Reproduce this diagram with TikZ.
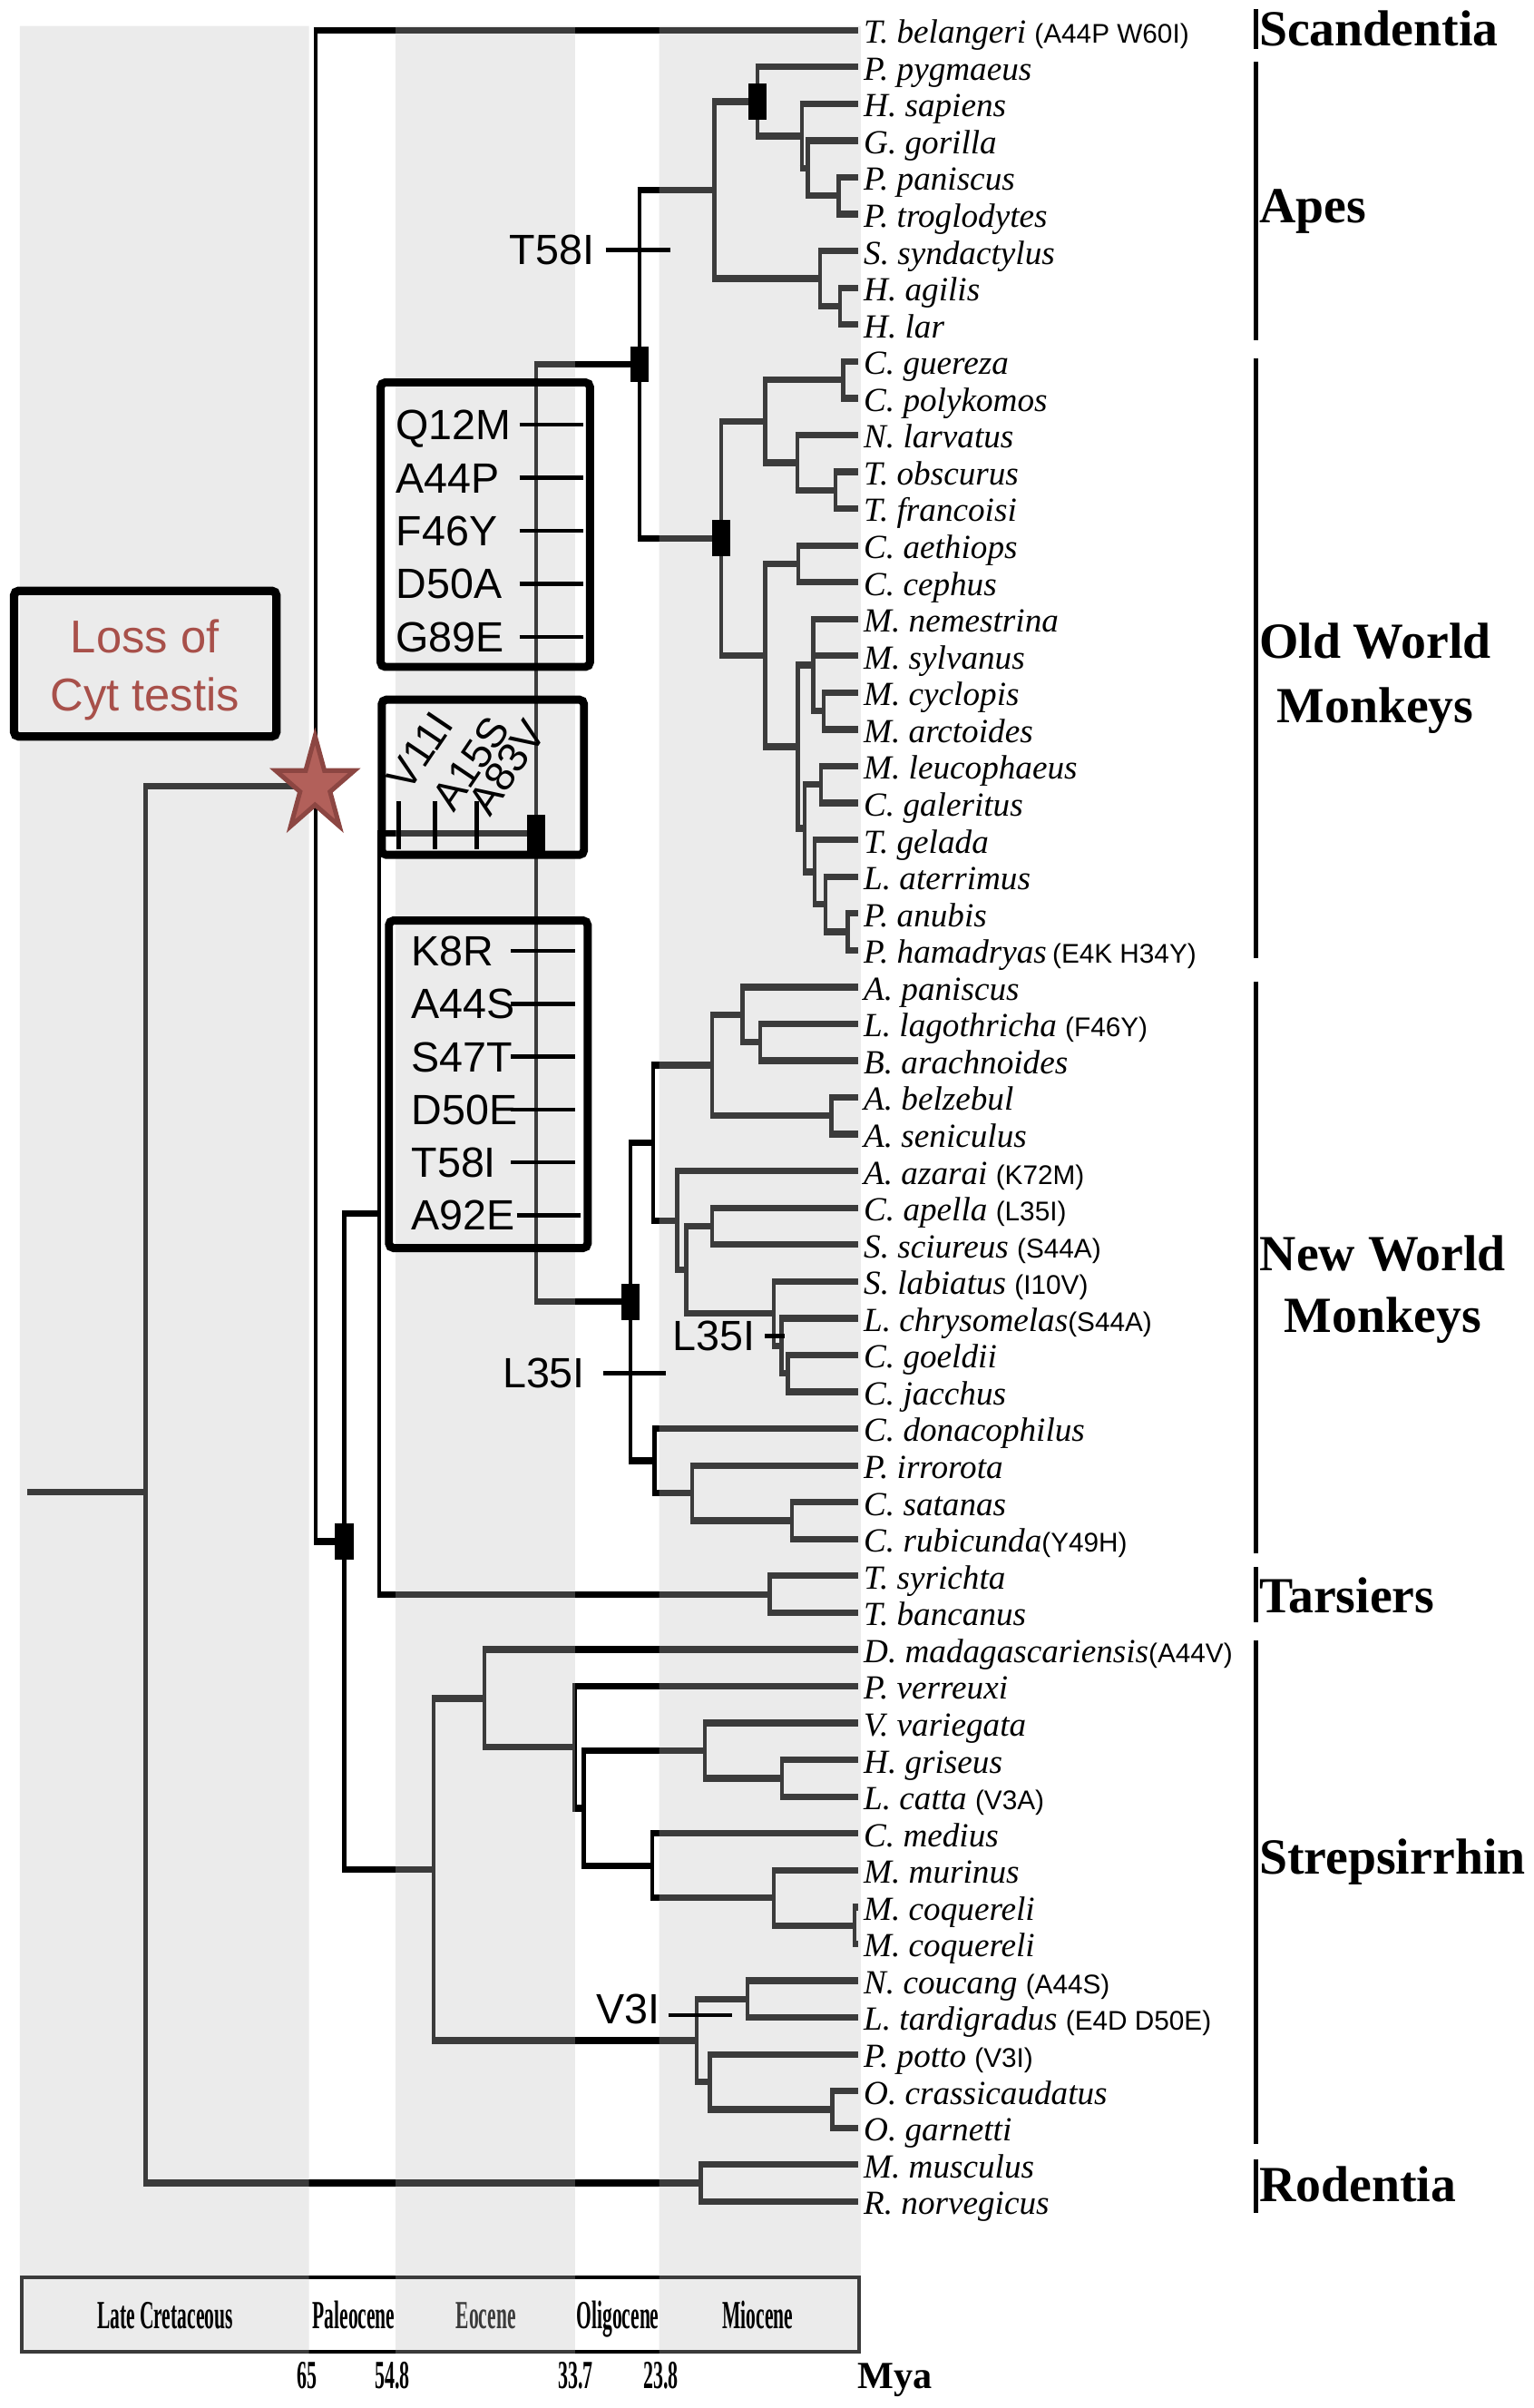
\documentclass[tikz,border=0pt]{standalone}
\usepackage{fontspec}
\usepackage{graphicx}
\setmainfont{Liberation Serif}
\setsansfont{Liberation Sans}
\usetikzlibrary{calc}
\definecolor{bandc}{rgb}{0.75,0.75,0.75}
\definecolor{lossc}{RGB}{168,80,74}
\definecolor{starfill}{RGB}{178,96,90}
\definecolor{stardraw}{RGB}{140,70,66}
\newcommand{\clade}[3]{%
  \draw[vbr] (#1 |- #2) -- (#1 |- #3);
  \draw[hbr] (#1 |- #2) -- (#2);
  \draw[hbr] (#1 |- #3) -- (#3);}
\newcommand{\mtick}[4]{\coordinate (#1a) at (#2,#4); \coordinate (#1b) at (#3,#4); \draw[tickl] (#1a) -- (#1b);}
\newcommand{\ann}[1]{{\fontsize{8.8pt}{10pt}\selectfont\sffamily\upshape #1}}
\newcommand{\cond}[1]{\scalebox{0.49}[1]{#1}}
\begin{document}
\begin{tikzpicture}[x=0.5pt,y=-0.5pt,
  hbr/.style={line width=2.15pt,line cap=butt,shorten <=-0.65pt},
  vbr/.style={line width=1.3pt,line cap=square},
  tickl/.style={line width=1.3pt},
  vtick/.style={line width=1.6pt},
  mutbox/.style={line width=2.65pt,rounded corners=1.5pt},
  nrect/.style={fill=black,draw=none,inner sep=0pt,minimum width=6pt,minimum height=11.75pt},
  sp/.style={anchor=base west,inner sep=0pt,xshift=1.5pt,yshift=-4.25pt,font=\fontsize{11pt}{12pt}\selectfont\itshape},
  mut/.style={anchor=base west,inner sep=0pt,font=\fontsize{13.8pt}{15pt}\selectfont\sffamily},
  rmut/.style={anchor=base west,inner sep=0pt,rotate=56,font=\fontsize{13.6pt}{15pt}\selectfont\sffamily},
  cladef/.style={anchor=base west,inner sep=0pt,font=\fontsize{16.5pt}{18pt}\selectfont\bfseries},
  cladec/.style={anchor=base,inner sep=0pt,font=\fontsize{16.5pt}{18pt}\selectfont\bfseries},
  era/.style={anchor=base,inner sep=0pt,font=\fontsize{13pt}{14pt}\selectfont\bfseries},
  cbar/.style={line width=1.4pt},
  lossf/.style={anchor=base,inner sep=0pt,text=lossc,font=\fontsize{15pt}{17pt}\selectfont\sffamily}]
\useasboundingbox (0,0) rectangle (1000,1570.4);

% ---------- tips ----------
\foreach \i in {1,...,60}{\coordinate (t\i) at (560,{19.7+24*(\i-1)});}

% ---------- internal nodes ----------
\coordinate (nPan) at (547,127.7);
\coordinate (nGP) at (527,109.7);
\coordinate (nHG) at (523,88.7);
\coordinate (nGA) at (494,66.2);
\coordinate (nHyl) at (548,199.7);
\coordinate (nGib) at (535,181.7);
\coordinate (nApes) at (466,124);
\coordinate (nCol) at (550,247.7);
\coordinate (nTra) at (545,319.7);
\coordinate (nAsC) at (520,301.7);
\coordinate (nColob) at (499,274.7);
\coordinate (nCer) at (520.7,367.7);
\coordinate (nMcy) at (537.4,463.7);
\coordinate (nMac) at (530.5,433.7);
\coordinate (nLC) at (535.5,511.7);
\coordinate (nPap) at (553,607.7);
\coordinate (nLP) at (538.4,589.7);
\coordinate (nTLP) at (531.5,568.7);
\coordinate (nRest) at (525,540.2);
\coordinate (nPapini) at (520.5,487);
\coordinate (nCerc) at (499,427.3);
\coordinate (nOWM) at (470.4,351);
\coordinate (nCat) at (417,237.5);
\coordinate (nLB) at (496,679.7);
\coordinate (nAtel) at (484.2,661.7);
\coordinate (nAlo) at (542.4,727.7);
\coordinate (nAtelid) at (464.5,694.7);
\coordinate (nCeb) at (464.5,799.7);
\coordinate (nGJ) at (513.8,895.7);
\coordinate (nLGJ) at (509.8,877.7);
\coordinate (nCall) at (504.9,856.7);
\coordinate (nCC) at (447.7,828.2);
\coordinate (nAoC) at (441.8,796);
\coordinate (nUp) at (426,745.3);
\coordinate (nChi) at (516.5,991.7);
\coordinate (nPith) at (451.4,973.7);
\coordinate (nLow) at (426.8,952.7);
\coordinate (nPlat) at (411.3,849);
\coordinate (nAnth) at (349.6,543.3);
\coordinate (nTar) at (502,1039.7);
\coordinate (nHap) at (247.4,791.5);
\coordinate (nHL) at (510,1159.7);
\coordinate (nLemd) at (459.8,1141.7);
\coordinate (nMcoq) at (557.4,1255.7);
\coordinate (nMM) at (504.7,1237.7);
\coordinate (nChe) at (425.5,1216.7);
\coordinate (nLC2) at (380.7,1179.2);
\coordinate (nLemo) at (374.9,1139.5);
\coordinate (nLemf) at (316,1107.6);
\coordinate (nNL) at (487.5,1303.7);
\coordinate (nOto) at (543,1375.7);
\coordinate (nGal) at (463,1357.7);
\coordinate (nLor) at (454.5,1330.7);
\coordinate (nStr) at (283,1219.2);
\coordinate (nPri) at (224.5,1005.3);
\coordinate (nEua) at (206,512.5);
\coordinate (nRod) at (457.2,1423.7);
\coordinate (nRoot) at (95,973);
\coordinate (rootL) at (18,973);

% ---------- tree (black, later toned by the bands) ----------
\clade{nPan}{t5}{t6}
\clade{nGP}{t4}{nPan}
\clade{nHG}{t3}{nGP}
\clade{nGA}{t2}{nHG}
\clade{nHyl}{t8}{t9}
\clade{nGib}{t7}{nHyl}
\clade{nApes}{nGA}{nGib}
\clade{nCol}{t10}{t11}
\clade{nTra}{t13}{t14}
\clade{nAsC}{t12}{nTra}
\clade{nColob}{nCol}{nAsC}
\clade{nCer}{t15}{t16}
\clade{nMcy}{t19}{t20}
\clade{nMac}{t17}{nMcy}
\draw[hbr] (nMac |- t18) -- (t18);
\clade{nLC}{t21}{t22}
\clade{nPap}{t25}{t26}
\clade{nLP}{t24}{nPap}
\clade{nTLP}{t23}{nLP}
\clade{nRest}{nLC}{nTLP}
\clade{nPapini}{nMac}{nRest}
\clade{nCerc}{nCer}{nPapini}
\clade{nOWM}{nColob}{nCerc}
\clade{nCat}{nApes}{nOWM}
\clade{nLB}{t28}{t29}
\clade{nAtel}{t27}{nLB}
\clade{nAlo}{t30}{t31}
\clade{nAtelid}{nAtel}{nAlo}
\clade{nCeb}{t33}{t34}
\clade{nGJ}{t37}{t38}
\clade{nLGJ}{t36}{nGJ}
\clade{nCall}{t35}{nLGJ}
\clade{nCC}{nCeb}{nCall}
\clade{nAoC}{t32}{nCC}
\clade{nUp}{nAtelid}{nAoC}
\clade{nChi}{t41}{t42}
\clade{nPith}{t40}{nChi}
\clade{nLow}{t39}{nPith}
\clade{nPlat}{nUp}{nLow}
\clade{nAnth}{nCat}{nPlat}
\clade{nTar}{t43}{t44}
\clade{nHap}{nAnth}{nTar}
\clade{nHL}{t48}{t49}
\clade{nLemd}{t47}{nHL}
\clade{nMcoq}{t52}{t53}
\clade{nMM}{t51}{nMcoq}
\clade{nChe}{t50}{nMM}
\clade{nLC2}{nLemd}{nChe}
\clade{nLemo}{t46}{nLC2}
\clade{nLemf}{t45}{nLemo}
\clade{nNL}{t54}{t55}
\clade{nOto}{t57}{t58}
\clade{nGal}{t56}{nOto}
\clade{nLor}{nNL}{nGal}
\clade{nStr}{nLemf}{nLor}
\clade{nPri}{nHap}{nStr}
\clade{nEua}{t1}{nPri}
\clade{nRod}{t59}{t60}
\clade{nRoot}{nEua}{nRod}
\draw[hbr,shorten <=0pt] (rootL) -- (nRoot);

% ---------- time scale box (under the bands) ----------
\draw[line width=1.25pt] (14.3,1485.3) rectangle (560.3,1533.7);
\node[era] (eEoc) at (317,1518.4) {\cond{Eocene}};

% ---------- period bands ----------
\fill[bandc,opacity=0.313] (13,17) rectangle (201.5,1535)
  (258,17) rectangle (375,1535) (430,17) rectangle (561.5,1535);

% ---------- node marks ----------
\node[nrect] (rGA) at (nGA) {};
\node[nrect] (rCat) at (nCat) {};
\node[nrect] (rOWM) at (nOWM) {};
\node[nrect] (rAnth) at (nAnth) {};
\node[nrect] (rPlat) at (nPlat) {};
\node[nrect] (rPri) at (nPri) {};

% ---------- mutation ticks and labels ----------
\mtick{kT58}{395}{437}{163}
\node[mut,anchor=base east] (mT58) at (388,172.7) {T58I};
\mtick{kL35a}{393.5}{434.5}{895.5}
\node[mut,anchor=base east] (mL35a) at (382,905.2) {L35I};
\mtick{kL35b}{499}{511.8}{871.2}
\node[mut,anchor=base east] (mL35b) at (493,880.9) {L35I};
\mtick{kV3}{436}{477.8}{1314}
\node[mut,anchor=base east] (mV3) at (431,1319.5) {V3I};

% box 1
\draw[mutbox] (248.3,249.4) rectangle (384.8,434.9);
\mtick{bA1}{338.8}{380.4}{277}
\mtick{bA2}{338.8}{380.4}{311.6}
\mtick{bA3}{338.8}{380.4}{346.2}
\mtick{bA4}{338.8}{380.4}{380.8}
\mtick{bA5}{338.8}{380.4}{415.4}
\node[mut] (mQ12M) at (258,286.7) {Q12M};
\node[mut] (mA44P) at (258,321.3) {A44P};
\node[mut] (mF46Y) at (258,355.9) {F46Y};
\node[mut] (mD50A) at (258,390.5) {D50A};
\node[mut] (mG89E) at (258,425.1) {G89E};

% box 2
\draw[mutbox] (249,456.3) rectangle (380.9,557.5);
\coordinate (v1a) at (260,522.7); \coordinate (v1b) at (260,554);
\coordinate (v2a) at (283.6,522.7); \coordinate (v2b) at (283.6,554);
\coordinate (v3a) at (310.9,522.7); \coordinate (v3b) at (310.9,554);
\draw[vtick] (v1a) -- (v1b);
\draw[vtick] (v2a) -- (v2b);
\draw[vtick] (v3a) -- (v3b);
\node[rmut] (mV11I) at (266.5,517.5) {V11I};
\node[rmut] (mA15S) at (296,531) {A15S};
\node[rmut] (mA83V) at (319.5,533.5) {A83V};

% box 3
\draw[mutbox] (253.7,600.3) rectangle (383.3,813.9);
\mtick{bC1}{333.3}{375}{620.2}
\mtick{bC2}{333.3}{375}{654.7}
\mtick{bC3}{333.3}{375}{689.1}
\mtick{bC4}{333.3}{375}{723.6}
\mtick{bC5}{333.3}{375}{758.0}
\mtick{bC6}{337}{378.6}{792.5}
\node[mut] (mK8R) at (268,629.9) {K8R};
\node[mut] (mA44S) at (268,664.4) {A44S};
\node[mut] (mS47T) at (268,698.8) {S47T};
\node[mut] (mD50E) at (268,733.3) {D50E};
\node[mut] (mT58I) at (268,767.7) {T58I};
\node[mut] (mA92E) at (268,802.2) {A92E};

% ---------- loss of Cyt testis ----------
\draw[mutbox,line width=2.75pt] (9.2,385.3) rectangle (180.3,480.3);
\node[lossf] (loss1) at (94.5,425.5) {Loss of};
\node[lossf] (loss2) at (94.5,463.3) {Cyt testis};
\filldraw[fill=starfill,draw=stardraw,line width=1.5pt,line join=miter]
  (205.5,480) -- (211.6,502.5) -- (231.2,502.5) -- (215.3,516.3) -- (221.4,538.8)
  -- (205.5,524.9) -- (189.6,538.8) -- (195.7,516.3) -- (179.8,502.5)
  -- (199.4,502.5) -- cycle;

% ---------- species labels ----------
\node[sp] (l1) at (t1) {T. belangeri \ann{(A44P W60I)}};
\node[sp] (l2) at (t2) {P. pygmaeus};
\node[sp] (l3) at (t3) {H. sapiens};
\node[sp] (l4) at (t4) {G. gorilla};
\node[sp] (l5) at (t5) {P. paniscus};
\node[sp] (l6) at (t6) {P. troglodytes};
\node[sp] (l7) at (t7) {S. syndactylus};
\node[sp] (l8) at (t8) {H. agilis};
\node[sp] (l9) at (t9) {H. lar};
\node[sp] (l10) at (t10) {C. guereza};
\node[sp] (l11) at (t11) {C. polykomos};
\node[sp] (l12) at (t12) {N. larvatus};
\node[sp] (l13) at (t13) {T. obscurus};
\node[sp] (l14) at (t14) {T. francoisi};
\node[sp] (l15) at (t15) {C. aethiops};
\node[sp] (l16) at (t16) {C. cephus};
\node[sp] (l17) at (t17) {M. nemestrina};
\node[sp] (l18) at (t18) {M. sylvanus};
\node[sp] (l19) at (t19) {M. cyclopis};
\node[sp] (l20) at (t20) {M. arctoides};
\node[sp] (l21) at (t21) {M. leucophaeus};
\node[sp] (l22) at (t22) {C. galeritus};
\node[sp] (l23) at (t23) {T. gelada};
\node[sp] (l24) at (t24) {L. aterrimus};
\node[sp] (l25) at (t25) {P. anubis};
\node[sp] (l26) at (t26) {P. hamadryas\,\ann{(E4K H34Y)}};
\node[sp] (l27) at (t27) {A. paniscus};
\node[sp] (l28) at (t28) {L. lagothricha \ann{(F46Y)}};
\node[sp] (l29) at (t29) {B. arachnoides};
\node[sp] (l30) at (t30) {A. belzebul};
\node[sp] (l31) at (t31) {A. seniculus};
\node[sp] (l32) at (t32) {A. azarai \ann{(K72M)}};
\node[sp] (l33) at (t33) {C. apella \ann{(L35I)}};
\node[sp] (l34) at (t34) {S. sciureus \ann{(S44A)}};
\node[sp] (l35) at (t35) {S. labiatus \ann{(I10V)}};
\node[sp] (l36) at (t36) {L. chrysomelas\ann{(S44A)}};
\node[sp] (l37) at (t37) {C. goeldii};
\node[sp] (l38) at (t38) {C. jacchus};
\node[sp] (l39) at (t39) {C. donacophilus};
\node[sp] (l40) at (t40) {P. irrorota};
\node[sp] (l41) at (t41) {C. satanas};
\node[sp] (l42) at (t42) {C. rubicunda\ann{(Y49H)}};
\node[sp] (l43) at (t43) {T. syrichta};
\node[sp] (l44) at (t44) {T. bancanus};
\node[sp] (l45) at (t45) {D. madagascariensis\ann{(A44V)}};
\node[sp] (l46) at (t46) {P. verreuxi};
\node[sp] (l47) at (t47) {V. variegata};
\node[sp] (l48) at (t48) {H. griseus};
\node[sp] (l49) at (t49) {L. catta \ann{(V3A)}};
\node[sp] (l50) at (t50) {C. medius};
\node[sp] (l51) at (t51) {M. murinus};
\node[sp] (l52) at (t52) {M. coquereli};
\node[sp] (l53) at (t53) {M. coquereli};
\node[sp] (l54) at (t54) {N. coucang \ann{(A44S)}};
\node[sp] (l55) at (t55) {L. tardigradus \ann{(E4D D50E)}};
\node[sp] (l56) at (t56) {P. potto \ann{(V3I)}};
\node[sp] (l57) at (t57) {O. crassicaudatus};
\node[sp] (l58) at (t58) {O. garnetti};
\node[sp] (l59) at (t59) {M. musculus};
\node[sp] (l60) at (t60) {R. norvegicus};

% ---------- clade bars and names ----------
\coordinate (b1a) at (819,6);    \coordinate (b1b) at (819,32);
\coordinate (b2a) at (819,40.4); \coordinate (b2b) at (819,222);
\coordinate (b3a) at (819,234);  \coordinate (b3b) at (819,625);
\coordinate (b4a) at (819,640);  \coordinate (b4b) at (819,1013);
\coordinate (b5a) at (819,1022); \coordinate (b5b) at (819,1058);
\coordinate (b6a) at (819,1070); \coordinate (b6b) at (819,1398);
\coordinate (b7a) at (819,1408); \coordinate (b7b) at (819,1443);
\foreach \k in {1,...,7}{\draw[cbar] (b\k a) -- (b\k b);}
\node[cladef] (cScan) at (821,29.6) {Scandentia};
\node[cladef] (cApes) at (821,145) {Apes};
\node[cladec] (cOW1) at (897,429) {Old World};
\node[cladec] (cOW2) at (897,471) {Monkeys};
\node[cladec] (cNW1) at (902,828.4) {New World};
\node[cladec] (cNW2) at (902,869) {Monkeys};
\node[cladef] (cTar) at (821,1052) {Tarsiers};
\node[cladef] (cStr) at (821,1222) {Strepsirrhin};
\node[cladef] (cRod) at (821,1436) {Rodentia};

% ---------- time scale labels ----------
\node[era] (eLC) at (107.6,1518.4) {\cond{Late Cretaceous}};
\node[era] (ePal) at (230.8,1518.4) {\cond{Paleocene}};
\node[era] (eOli) at (403,1518.4) {\cond{Oligocene}};
\node[era] (eMio) at (494.3,1518.4) {\cond{Miocene}};
\node[era] (n65) at (200.5,1557.8) {\scalebox{0.5}[1]{65}};
\node[era] (n548) at (255.8,1557.8) {\scalebox{0.5}[1]{54.8}};
\node[era] (n337) at (375.5,1557.8) {\scalebox{0.5}[1]{33.7}};
\node[era] (n238) at (431,1557.8) {\scalebox{0.5}[1]{23.8}};
\node[era,anchor=base west,font=\fontsize{12.5pt}{14pt}\selectfont\bfseries] (nMya) at (559,1557.8) {Mya};
\end{tikzpicture}
\end{document}
